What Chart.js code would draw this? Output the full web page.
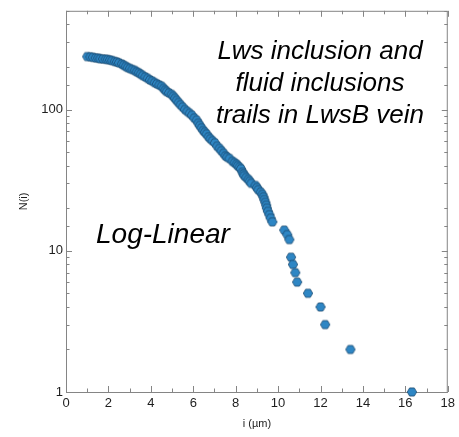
<!DOCTYPE html>
<html>
<head>
<meta charset="utf-8">
<script src="https://cdn.jsdelivr.net/npm/chart.js@4"></script>
<style>
  html, body { margin: 0; padding: 0; background: #fff; }
  #wrap { width: 459px; height: 437px; position: relative; }
</style>
</head>
<body>
<div id="wrap"><canvas id="plot"></canvas></div>
<script>
// rank-size data: size i (µm) and N(i)
const SIZE_UM = [
  1.00, 1.15, 1.27, 1.40, 1.52, 1.62, 1.75, 1.87, 1.97, 2.08,
  2.18, 2.30, 2.40, 2.50, 2.63, 2.72, 2.82, 2.91, 3.02, 3.13,
  3.24, 3.33, 3.43, 3.52, 3.62, 3.74, 3.85, 3.96, 4.07, 4.18,
  4.29, 4.40, 4.51, 4.60, 4.68, 4.75, 4.86, 4.98, 5.06, 5.14,
  5.22, 5.31, 5.40, 5.50, 5.61, 5.72, 5.83, 5.94, 6.05, 6.16,
  6.24, 6.31, 6.39, 6.47, 6.55, 6.63, 6.72, 6.81, 6.91, 7.02,
  7.13, 7.24, 7.33, 7.43, 7.52, 7.60, 7.71, 7.85, 7.95, 8.04,
  8.10, 8.18, 8.25, 8.32, 8.37, 8.41, 8.50, 8.60, 8.66, 8.74,
  8.93, 9.00, 9.07, 9.18, 9.26, 9.31, 9.35, 9.40, 9.44, 9.47,
  9.52, 9.59, 9.65, 9.73,
  10.29, 10.43, 10.53, 10.61, 10.70, 10.81, 10.90, 11.41, 12.00, 12.22,
  13.41, 16.31
];
const N_COUNT = [
  237, 236, 234, 232, 231, 229, 228, 227, 226, 224,
  222, 219, 217, 214, 210, 206, 202, 198, 195, 192,
  189, 185, 182, 178, 174, 170, 166, 162, 159, 155,
  152, 149, 146, 141, 137, 134, 131, 128, 124, 120,
  116, 112, 108, 104, 100, 97, 94, 91, 87, 84,
  80, 77, 74, 71, 69, 67, 64, 62, 60, 58,
  55, 53, 51, 49, 47, 46, 45, 43, 42, 41,
  40, 39, 38, 36, 35, 34, 33, 32, 31, 30,
  29, 28, 27, 26, 25, 24, 23, 22, 21, 20,
  19, 18, 17, 16,
  14, 13, 12, 9, 8, 7, 6, 5, 4, 3,
  2, 1
];

const X_MIN = 0, X_MAX = 18;
const Y_MIN = 1, Y_MAX = 500;
const Y_LABELED = [1, 10, 100];

const TITLE_LINES = ['Lws inclusion and', 'fluid inclusions', 'trails in LwsB vein'];
const METHOD_LABEL = 'Log-Linear';

const FRAME = '#858585';
const INK = '#1e1e1e';
const FONT = '"Liberation Sans", Arial, sans-serif';

// hexagon marker
function hexMarker(r) {
  const c = document.createElement('canvas');
  const s = Math.ceil(r * 2 + 2);
  c.width = s; c.height = s;
  const g = c.getContext('2d');
  g.beginPath();
  for (let k = 0; k < 6; k++) {
    const a = Math.PI / 3 * k;
    const px = s / 2 + r * Math.cos(a), py = s / 2 + r * Math.sin(a);
    k ? g.lineTo(px, py) : g.moveTo(px, py);
  }
  g.closePath();
  g.fillStyle = '#2e86c4';
  g.fill();
  g.lineWidth = 0.8;
  g.strokeStyle = '#1b4a70';
  g.stroke();
  return c;
}

// box frame + inward ticks on all four sides
const frameTicks = {
  id: 'frameTicks',
  beforeDatasetsDraw(chart) {
    const { ctx, chartArea: a, scales } = chart;
    ctx.save();
    ctx.strokeStyle = FRAME;
    ctx.lineWidth = 1;
    ctx.strokeRect(a.left + 0.5, a.top + 0.5, a.right - a.left - 1, a.bottom - a.top);
    ctx.beginPath();
    scales.x.ticks.forEach(t => {
      const px = Math.round(scales.x.getPixelForValue(t.value)) + 0.5;
      const len = t.value % 2 === 0 ? 6 : 3.5;
      ctx.moveTo(px, a.bottom); ctx.lineTo(px, a.bottom - len);
      ctx.moveTo(px, a.top); ctx.lineTo(px, a.top + len);
    });
    scales.y.ticks.forEach(t => {
      const py = Math.round(scales.y.getPixelForValue(t.value)) + 0.5;
      const len = Y_LABELED.includes(t.value) ? 6 : 3.5;
      ctx.moveTo(a.left, py); ctx.lineTo(a.left + len, py);
      ctx.moveTo(a.right, py); ctx.lineTo(a.right - len, py);
    });
    ctx.stroke();
    ctx.restore();
  },
  afterDraw(chart) {
    const { ctx } = chart;
    ctx.save();
    ctx.fillStyle = '#000';
    ctx.textAlign = 'center';
    ctx.textBaseline = 'middle';
    ctx.font = 'italic 26px ' + FONT;
    TITLE_LINES.forEach((s, i) => ctx.fillText(s, 320, 52 + i * 32));
    ctx.textAlign = 'left';
    ctx.font = 'italic 28px ' + FONT;
    ctx.fillText(METHOD_LABEL, 96, 235);
    ctx.restore();
  }
};

const points = SIZE_UM.map((x, i) => ({ x, y: N_COUNT[i] }));

new Chart(document.getElementById('plot'), {
  type: 'scatter',
  data: {
    datasets: [{
      data: points,
      pointStyle: hexMarker(4.7),
      pointRadius: 5,
      pointHoverRadius: 5,
      clip: false,
    }]
  },
  options: {
    responsive: true,
    maintainAspectRatio: false,
    animation: false,
    layout: { padding: { top: 9, right: 10, left: 0, bottom: 0 } },
    plugins: { legend: { display: false }, tooltip: { enabled: false } },
    scales: {
      x: {
        type: 'linear',
        min: X_MIN, max: X_MAX,
        grid: { display: false, drawTicks: false },
        border: { display: false },
        ticks: {
          stepSize: 1,
          autoSkip: false,
          maxRotation: 0,
          padding: 4,
          color: INK,
          font: { family: FONT, size: 13 },
          callback: v => (v % 2 === 0 ? String(v) : ''),
        },
        title: {
          display: true,
          text: 'i (µm)',
          color: INK,
          font: { family: FONT, size: 11 },
          padding: { top: 0, bottom: 6 },
        },
        afterFit: s => { s.height = 45; },
      },
      y: {
        type: 'logarithmic',
        min: Y_MIN, max: Y_MAX,
        grid: { display: false, drawTicks: false },
        border: { display: false },
        ticks: {
          autoSkip: false,
          padding: 3,
          color: INK,
          font: { family: FONT, size: 13 },
          callback: v => (Y_LABELED.includes(v) ? String(v) : ''),
        },
        title: {
          display: true,
          text: 'N(i)',
          color: INK,
          font: { family: FONT, size: 11 },
          padding: { top: 17, bottom: 0 },
        },
        afterFit: s => { s.width = 66; },
      }
    }
  },
  plugins: [frameTicks]
});
</script>
</body>
</html>
